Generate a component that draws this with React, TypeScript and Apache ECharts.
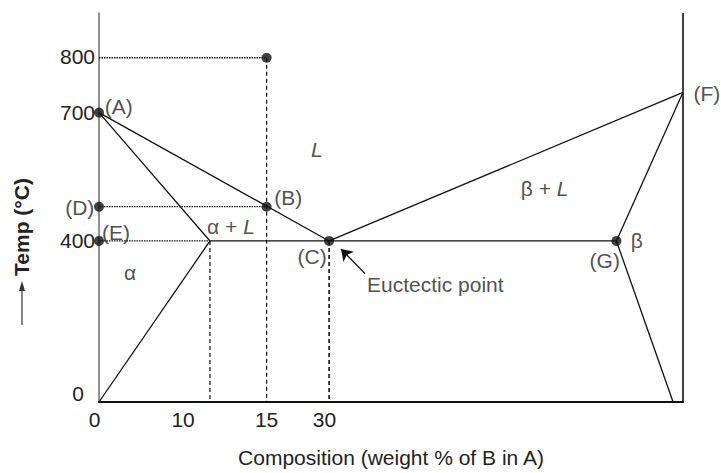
import React, { useEffect, useRef } from "react";
import * as echarts from "echarts";

// Schematic diagram units: x 0..100 across the composition frame, y 0..100 up the frame
const X_TICK_POS = [0, 14.4, 28.7, 38.6];
const X_TICK_LABELS = ["0", "10", "15", "30"];
const Y_TICK_POS = [2.3, 41.4, 74.4, 88.9];
const Y_TICK_LABELS = ["0", "400", "700", "800"];

// Phase boundaries (solid)
const liquidusLeft = [[0, 74.4], [39.4, 41.4]];
const solidusLeft = [[0, 74.4], [19, 41.4]];
const solvusLeft = [[0, 0], [19, 41.4]];
const eutecticLine = [[19, 41.4], [88.6, 41.4]];
const liquidusRight = [[39.4, 41.4], [100, 79.6]];
const solidusRight = [[100, 79.6], [88.6, 41.4]];
const solvusRight = [[88.6, 41.4], [98.3, 0]];
const rightWall = [[100, 0], [100, 100]];

// Guide lines (dotted horizontals)
const guide800 = [[0, 88.5], [28.7, 88.5]];
const guideD = [[0, 50.2], [28.7, 50.2]];
const guideE = [[0, 41.4], [19, 41.4]];
// Guide lines (dashed verticals)
const drop15 = [[28.7, 88.5], [28.7, 0]];
const drop10 = [[19, 41.4], [19, 0]];
const drop30 = [[39.4, 41.4], [39.4, 0]];

// Marked points
const dots = [[0, 74.4], [0, 50.2], [0, 41.4], [28.7, 88.5], [28.7, 50.2], [39.4, 41.4], [88.6, 41.4]];

// Annotation texts
const annotNames = ["(A)", "(B)", "(C)", "(D)", "(E)", "(G)", "β", "(F)", "L", "β + L", "α + L", "α"];
const annotPos = [
  [3.4, 75.9], [32.4, 52.5], [36.5, 37.3], [-3.3, 50.0], [2.9, 43.6], [86.6, 36.5],
  [92.1, 41.4], [104.1, 79.4], [37.3, 65.0], [76.3, 54.8], [22.6, 45.2], [5.3, 33.2],
];
const eutecticText = "Euctectic point";
const eutecticTextPos = [45.9, 30.2];
const eutecticArrow = [[45.55, 33.0], [41.44, 39.34]];

const FONT = "'Liberation Sans', Arial, sans-serif";
const TXT = "#222";
const FS = 21;

const solid = (d: number[][]) => ({
  type: "line", data: d, symbol: "none", silent: true,
  lineStyle: { color: "#111", width: 1.3 },
});
const dotted = (d: number[][]) => ({
  type: "line", data: d, symbol: "none", silent: true,
  lineStyle: { color: "#111", width: 1.3, type: [1.5, 1] },
});
const dashed = (d: number[][], w = 1.2) => ({
  type: "line", data: d, symbol: "none", silent: true,
  lineStyle: { color: "#111", width: w, type: [4, 3] },
});

const fmtLabel = (n: string) => {
  if (n === "L") return "{it|L}";
  if (n.endsWith(" L")) return "{n|" + n.slice(0, -1) + "}{it|L}";
  return "{n|" + n + "}";
};

export default function App() {
  const ref = useRef<HTMLDivElement>(null);
  useEffect(() => {
    if (!ref.current) return;
    const chart = echarts.init(ref.current, undefined, { renderer: "svg" });
    chart.setOption({
      animation: false,
      backgroundColor: "#fff",
      textStyle: { fontFamily: FONT },
      grid: { left: 99, right: 38, top: 13, bottom: 66 },
      xAxis: {
        type: "value", min: 0, max: 100,
        splitLine: { show: false },
        axisTick: { show: false },
        axisLine: { lineStyle: { color: "#111", width: 2 } },
        axisLabel: {
          customValues: X_TICK_POS,
          margin: 7,
          color: TXT, fontSize: FS, fontFamily: FONT,
          formatter: (v: number) => {
            const i = X_TICK_POS.indexOf(v);
            const t = i >= 0 ? X_TICK_LABELS[i] : "";
            return i === 0 ? "{z|" + t + "}" : t;
          },
          rich: { z: { fontSize: FS, color: TXT, fontFamily: FONT, padding: [0, 9, 0, 0] } },
        },
        name: "Composition (weight % of B in A)",
        nameLocation: "middle",
        nameGap: 45,
        nameTextStyle: { color: TXT, fontSize: FS, fontFamily: FONT },
      },
      yAxis: {
        type: "value", min: 0, max: 100,
        splitLine: { show: false },
        axisTick: { show: false },
        axisLine: { lineStyle: { color: "#777", width: 1.6 } },
        axisLabel: {
          customValues: Y_TICK_POS,
          margin: 4,
          color: TXT, fontSize: FS, fontFamily: FONT,
          formatter: (v: number) => {
            const i = Y_TICK_POS.indexOf(v);
            const t = i >= 0 ? Y_TICK_LABELS[i] : "";
            return i === 0 ? "{z|" + t + "}" : t;
          },
          rich: { z: { fontSize: FS, color: TXT, fontFamily: FONT, padding: [0, 11, 0, 0] } },
        },
      },
      series: [
        solid(liquidusLeft), solid(solidusLeft), solid(solvusLeft), solid(eutecticLine),
        solid(liquidusRight), solid(solidusRight), solid(solvusRight),
        { ...solid(rightWall), lineStyle: { color: "#111", width: 1.6 } },
        dotted(guide800), dotted(guideD), dotted(guideE),
        dashed(drop15), dashed(drop10), dashed(drop30, 1.6),
        {
          type: "scatter", data: dots, symbol: "circle", symbolSize: 10,
          itemStyle: { color: "#111" }, silent: true, clip: false, z: 5,
        },
        {
          type: "lines", coordinateSystem: "cartesian2d", silent: true, clip: false,
          data: [{ coords: eutecticArrow }],
          symbol: ["none", "arrow"], symbolSize: [0, 11],
          lineStyle: { color: "#111", width: 1.4, opacity: 1 },
          z: 4,
        },
        {
          type: "scatter", symbolSize: 0, silent: true, clip: false, z: 6,
          data: [
            ...annotNames.map((n, i) => ({ name: n, value: annotPos[i] })),
            {
              name: eutecticText, value: eutecticTextPos,
              label: { position: "right", distance: 0 },
            },
          ],
          label: {
            show: true, position: "inside",
            color: TXT, fontSize: FS, fontFamily: FONT,
            formatter: (p: any) => (p.name === eutecticText ? p.name : fmtLabel(p.name)),
            rich: {
              n: { fontSize: FS, color: TXT, fontFamily: FONT },
              it: { fontSize: FS, color: TXT, fontFamily: FONT, fontStyle: "italic" },
            },
          },
        },
      ],
      graphic: [
        {
          type: "text", x: 21, y: 227, rotation: Math.PI / 2,
          style: {
            text: "Temp (°C)", fill: TXT, font: "bold " + FS + "px " + FONT,
            textAlign: "center", textVerticalAlign: "middle",
          },
        },
        {
          type: "line", shape: { x1: 22, y1: 325, x2: 22, y2: 288 },
          style: { stroke: "#333", lineWidth: 1.2 },
        },
        {
          type: "polygon", shape: { points: [[22, 281], [19, 291], [25, 291]] },
          style: { fill: "#333" },
        },
      ],
    });
    return () => chart.dispose();
  }, []);
  return (
    <div
      ref={ref}
      style={{ position: "absolute", left: 0, top: 0, width: 721, height: 473 }}
    />
  );
}
